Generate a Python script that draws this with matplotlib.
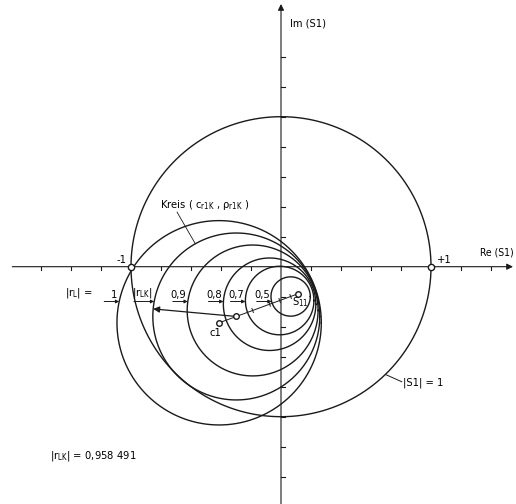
import numpy as np
import matplotlib
matplotlib.use("Agg")
import matplotlib.pyplot as plt

# values, in units of the S1 plane
s11 = complex(0.115, -0.180)        # image of r_L = 0
s_far = complex(0.3625, -0.089)     # image of r_L -> infinity
s22_mag = 0.825
rho_levels = [0.5, 0.7, 0.8, 0.9, 0.958491, 1.0]
rho_labels = ["0,5", "0,7", "0,8", "0,9", r"|r$_{LK}$|", "1"]
rho_lk = 0.958491

INK = "#1a1a1a"
plt.rcParams["font.family"] = ["DejaVu Sans"]
plt.rcParams["font.stretch"] = "condensed"
plt.rcParams["mathtext.default"] = "regular"


def circle_of(rho):
    k = s22_mag * rho
    c = (s11 - k ** 2 * s_far) / (1 - k ** 2)
    r = k * abs(s11 - s_far) / (1 - k ** 2)
    return c, r


def draw_circle(ax, c, r, lw=1.0):
    t = np.linspace(0, 2 * np.pi, 721)
    ax.plot(c.real + r * np.cos(t), c.imag + r * np.sin(t), color=INK, lw=lw)


fig = plt.figure(figsize=(5.16, 5.04), dpi=100)
ax = fig.add_axes([0, 0, 1, 1])
ax.set_xlim(-281 / 150, 235 / 150)
ax.set_ylim(-237.3 / 150, 266.7 / 150)
ax.axis("off")

# axes with arrows
ax.annotate("", xy=(1.565, 0), xytext=(-1.81, 0),
            arrowprops=dict(arrowstyle="-|>", lw=0.8, color=INK, mutation_scale=9))
ax.annotate("", xy=(0, 1.77), xytext=(0, -1.6),
            arrowprops=dict(arrowstyle="-|>", lw=0.8, color=INK, mutation_scale=9))
for x in np.arange(-1.6, 1.41, 0.2):
    if abs(x) > 0.05:
        ax.plot([x, x], [0, -0.024], color=INK, lw=0.8)
for y in np.arange(-1.4, 1.41, 0.2):
    if abs(y) > 0.05:
        ax.plot([0, 0.024], [y, y], color=INK, lw=0.8)

# |S1| = 1
draw_circle(ax, 0j, 1.0)
ax.plot([-1, 1], [0, 0], "o", ms=4.5, mfc="white", mec=INK, mew=1.0, zorder=5)
ax.text(-1.03, 0.045, "-1", ha="right", va="center", fontsize=8)
ax.text(1.04, 0.047, "+1", ha="left", va="center", fontsize=8)
ax.text(1.555, 0.095, "Re (S1)", ha="right", va="center", fontsize=7.5)
ax.text(0.06, 1.618, "Im (S1)", ha="left", va="center", fontsize=8)

a = np.deg2rad(-45.9)
ax.plot([np.cos(a), 0.805], [np.sin(a), -0.767], color=INK, lw=0.7)
ax.text(0.813, -0.772, "|S1| = 1", ha="left", va="center", fontsize=8)

# family of |r_L| = const circles
y_lab = -0.232
for rho, lab in zip(rho_levels, rho_labels):
    c, r = circle_of(rho)
    draw_circle(ax, c, r)
    tip = c.real - np.sqrt(r ** 2 - (y_lab - c.imag) ** 2)
    length = 0.135 if "LK" in lab else 0.1
    ax.annotate("", xy=(tip, y_lab), xytext=(tip - length, y_lab),
                arrowprops=dict(arrowstyle="-|>", lw=0.7, color=INK,
                                mutation_scale=5, shrinkA=0, shrinkB=0))
    ax.text(tip - 0.01, y_lab + 0.01, lab, ha="right", va="bottom", fontsize=8)

ax.text(-1.44, -0.175, r"|r$_L$| =", ha="left", va="center", fontsize=8)

# centre line S11 -> c1 with ticks at the centres
c_lk, r_lk = circle_of(rho_lk)
c_one, _ = circle_of(1.0)
ax.plot([s11.real, c_one.real], [s11.imag, c_one.imag], color=INK, lw=0.7)
d = (c_one - s11) / abs(c_one - s11)
n = d * 1j * 0.014
for rho in rho_levels[:4]:
    c, _ = circle_of(rho)
    ax.plot([c.real - n.real, c.real + n.real], [c.imag - n.imag, c.imag + n.imag],
            color=INK, lw=0.7)
ax.plot([s11.real, c_lk.real, c_one.real], [s11.imag, c_lk.imag, c_one.imag], "o",
        ms=4, mfc="white", mec=INK, mew=1.0, zorder=5)
ax.text(0.127, -0.236, r"S$_{11}$", ha="center", va="center", fontsize=8)
ax.text(-0.437, -0.442, "c1", ha="center", va="center", fontsize=8)

# radius arrow of the critical circle
a = np.deg2rad(174.8)
ax.annotate("", xy=(c_lk.real + r_lk * np.cos(a), c_lk.imag + r_lk * np.sin(a)),
            xytext=(c_lk.real, c_lk.imag),
            arrowprops=dict(arrowstyle="-|>", lw=0.9, color=INK, mutation_scale=9,
                            shrinkA=2, shrinkB=0))

# Kreis label with leader
a = np.deg2rad(119.4)
ax.plot([-0.693, c_lk.real + r_lk * np.cos(a)], [0.364, c_lk.imag + r_lk * np.sin(a)],
        color=INK, lw=0.6)
ax.text(-0.807, 0.411, r"Kreis ( c$_{r1K}$ , ρ$_{r1K}$ )", ha="left", va="center",
        fontsize=8)

ax.text(-1.54, -1.262, r"|r$_{LK}$| = 0,958 491", ha="left", va="center", fontsize=8)

fig.savefig("out.png", dpi=100)
